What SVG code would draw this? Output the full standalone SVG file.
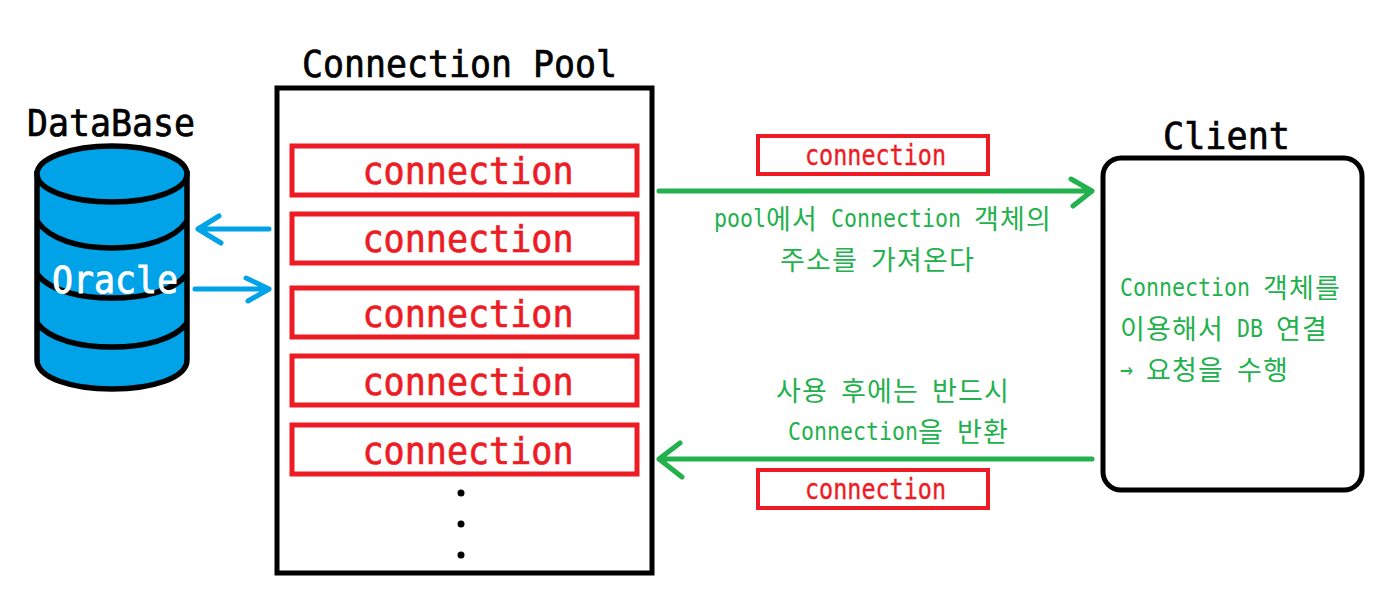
<svg xmlns="http://www.w3.org/2000/svg" width="1394" height="612" viewBox="0 0 1394 612">
<style>
text{font-family:"DejaVu Sans Mono","Noto Sans CJK KR",monospace;}
.t{fill:#000;font-size:38px;stroke:#000;stroke-width:.7}
.c{fill:#ed1c24;font-size:38px;text-anchor:middle;stroke:#ed1c24;stroke-width:.7}
.s{fill:#ed1c24;font-size:28px;text-anchor:middle;stroke:#ed1c24;stroke-width:.4}
.g{fill:#22b14c;font-size:25px}
.k{font-family:"Noto Sans CJK KR",sans-serif;font-size:27px;letter-spacing:1.2px}
.r{fill:none;stroke:#ed1c24;stroke-width:5}
.r2{fill:none;stroke:#ed1c24;stroke-width:4}
.db{fill:#00a2e8;stroke:#000;stroke-width:5.5}
.dl{fill:none;stroke:#000;stroke-width:5.5}
.bl{fill:none;stroke:#00a2e8;stroke-width:5;stroke-linecap:round;stroke-linejoin:round}
.gr{fill:none;stroke:#22b14c;stroke-width:5;stroke-linecap:round;stroke-linejoin:round}
</style>
<rect width="1394" height="612" fill="#fff"/>
<g id="database">
<path class="db" d="M37 174V360C37 378 72 389 112 389C152 389 187 378 187 360V174Z"/>
<ellipse class="db" cx="112" cy="174" rx="75" ry="28"/>
<path class="dl" d="M37 221C50 240 80 248 112 248C144 248 174 240 187 221"/>
<path class="dl" d="M37 274C50 291 80 298 112 298C144 298 174 291 187 274"/>
<path class="dl" d="M37 323C50 340 80 347 112 347C144 347 174 340 187 323"/>
<text class="t" x="27" y="136" textLength="168" lengthAdjust="spacingAndGlyphs">DataBase</text>
<text x="52" y="293" fill="#fff" stroke="#fff" stroke-width=".9" font-size="38" textLength="126" lengthAdjust="spacingAndGlyphs">Oracle</text>
</g>
<g id="pool">
<rect x="277" y="88" width="375" height="485" fill="#fff" stroke="#000" stroke-width="5"/>
<text class="t" x="302" y="77" textLength="315" lengthAdjust="spacingAndGlyphs">Connection Pool</text>
<circle cx="461" cy="493" r="3.5"/><circle cx="461" cy="524" r="3.5"/><circle cx="461" cy="555" r="3.5"/>
</g>
<g id="conn1"><rect class="r" x="292" y="146" width="345" height="49"/><text class="c" x="468" y="184" textLength="211" lengthAdjust="spacingAndGlyphs">connection</text></g>
<g id="conn2"><rect class="r" x="292" y="214" width="345" height="49"/><text class="c" x="468" y="252" textLength="211" lengthAdjust="spacingAndGlyphs">connection</text></g>
<g id="conn3"><rect class="r" x="292" y="288" width="345" height="49"/><text class="c" x="468" y="327" textLength="211" lengthAdjust="spacingAndGlyphs">connection</text></g>
<g id="conn4"><rect class="r" x="292" y="356" width="345" height="49"/><text class="c" x="468" y="395" textLength="211" lengthAdjust="spacingAndGlyphs">connection</text></g>
<g id="conn5"><rect class="r" x="292" y="425" width="345" height="49"/><text class="c" x="468" y="464" textLength="211" lengthAdjust="spacingAndGlyphs">connection</text></g>
<g id="msg-top"><rect class="r2" x="758" y="136" width="230" height="38"/><text class="s" x="875.500" y="165" textLength="141" lengthAdjust="spacingAndGlyphs">connection</text></g>
<g id="msg-bottom"><rect class="r2" x="758" y="470" width="230" height="38"/><text class="s" x="875.500" y="499" textLength="141" lengthAdjust="spacingAndGlyphs">connection</text></g>
<g id="client">
<rect x="1103" y="158" width="259" height="332" rx="18" fill="#fff" stroke="#000" stroke-width="5"/>
<text class="t" x="1163" y="149" textLength="127" lengthAdjust="spacingAndGlyphs">Client</text>
<text class="g" x="1120" y="296"><tspan textLength="130" lengthAdjust="spacingAndGlyphs">Connection</tspan> <tspan class="k" x="1263" y="298">객체를</tspan></text>
<text class="g" x="1120" y="337"><tspan class="k" y="339">이용해서</tspan> <tspan x="1237" y="337" textLength="26" lengthAdjust="spacingAndGlyphs">DB</tspan> <tspan class="k" x="1276" y="339">연결</tspan></text>
<text class="g" x="1120" y="378"><tspan textLength="13" lengthAdjust="spacingAndGlyphs">→</tspan> <tspan class="k" x="1146" y="380">요청을</tspan> <tspan class="k" x="1237" y="380">수행</tspan></text>
</g>
<g id="connectors">
<path class="bl" d="M269 229H198M219 216L198 229L221 243"/>
<path class="bl" d="M195 289H269M246 278L269 289L248 301"/>
<path class="gr" d="M659 191H1092M1071 179L1092 191L1073 206"/>
<path class="gr" d="M1092 459H659M680 443L659 459L682 477"/>
</g>
<g id="labels">
<text class="g" x="714" y="227"><tspan textLength="52" lengthAdjust="spacingAndGlyphs">pool</tspan><tspan class="k" x="766" y="229">에서</tspan> <tspan x="831" y="227" textLength="130" lengthAdjust="spacingAndGlyphs">Connection</tspan> <tspan class="k" x="974" y="229">객체의</tspan></text>
<text class="g" x="780" y="270"><tspan class="k">주소를</tspan> <tspan class="k" x="871">가져온다</tspan></text>
<text class="g" x="776" y="401"><tspan class="k">사용</tspan> <tspan class="k" x="841">후에는</tspan> <tspan class="k" x="932">반드시</tspan></text>
<text class="g" x="788" y="440"><tspan textLength="130" lengthAdjust="spacingAndGlyphs">Connection</tspan><tspan class="k" x="918" y="442">을</tspan> <tspan class="k" x="957" y="442">반환</tspan></text>
</g>
</svg>
